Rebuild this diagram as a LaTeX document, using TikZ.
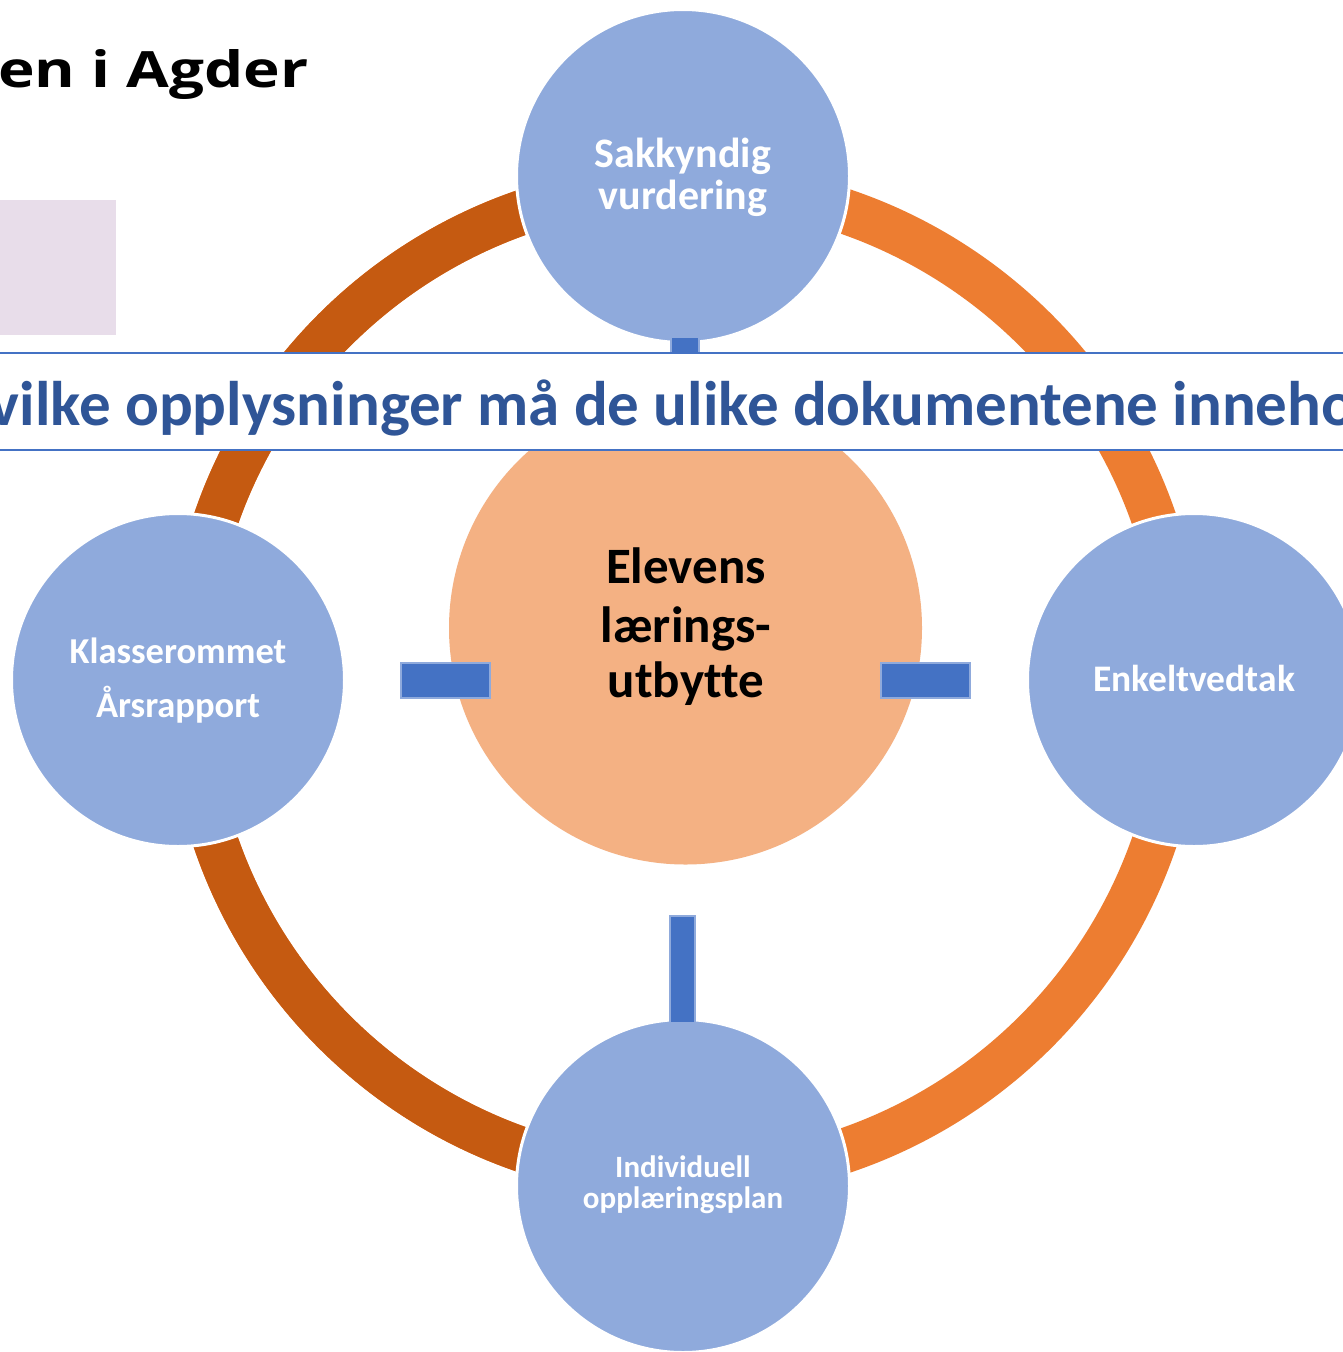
\documentclass[tikz,border=0pt]{standalone}
\usepackage{fontspec}
\setmainfont{Carlito}[Ligatures=NoCommon]
\newfontfamily\titlefont{Open Sans}
\definecolor{ringL}{HTML}{C55A11}
\definecolor{ringR}{HTML}{ED7D31}
\definecolor{outerC}{HTML}{8FAADC}
\definecolor{centerC}{HTML}{F4B183}
\definecolor{barC}{HTML}{4472C4}
\definecolor{barE}{HTML}{8FAADC}
\definecolor{bannerT}{HTML}{2F5597}
\definecolor{pinkC}{HTML}{E8DDEA}
\tikzset{
  outer/.style={circle, fill=outerC, draw=white, line width=3pt, minimum size=333pt, inner sep=0pt},
  lbl/.style={text=white, align=center},
  bar/.style={fill=barC, draw=barE, line width=2pt},
}
\begin{document}
\begin{tikzpicture}[x=1pt,y=-1pt]
\useasboundingbox (0,0) rectangle (1342,1352);
\fill[white] (0,0) rectangle (1342,1352);
% title and pink box
\node[anchor=base west, inner sep=0pt, font=\titlefont\bfseries\fontsize{50}{56}\selectfont, xscale=1.24] (title) at (-2,87) {en i Agder};
\fill[pinkC] (0,200) rectangle (116,335);
% ring
\coordinate (rc) at (685,681);
\draw[line width=45pt, ringR] (rc) circle[radius=496];
\draw[line width=45pt, ringL] ([shift={(90:496)}]rc) arc[start angle=90, end angle=270, radius=496];
% outer circles
\node[outer] (sak) at (683,176) {};
\node[outer] (kla) at (178,680) {};
\node[outer] (enk) at (1194,680) {};
\node[outer] (ind) at (683,1186) {};
% center
\node[circle, fill=centerC, minimum size=473pt, inner sep=0pt] (mid) at (685.5,628) {};
% bars
\draw[bar] (671,337) rectangle (699,445);
\draw[bar] (401,663) rectangle (490,698);
\draw[bar] (881,663) rectangle (970,698);
\draw[bar] (670,916) rectangle (695,1023);
% banner
\begin{scope}
\clip (0,352) rectangle (1342,451);
\fill[white] (-10,352) rectangle (1352,451);
\node[anchor=base west, inner sep=0pt, text=bannerT, font=\bfseries\fontsize{63}{70}\selectfont] (q) at (-50,425) {Hvilke opplysninger må de ulike dokumentene inneholde?};
\end{scope}
\draw[barC, line width=2pt] (-5,353) -- (1347,353);
\draw[barC, line width=2pt] (-5,450) -- (1347,450);
% labels
\node[lbl, font=\bfseries\fontsize{42}{44}\selectfont, anchor=base] (t1) at (683,167) {Sakkyndig};
\node[lbl, font=\bfseries\fontsize{42}{44}\selectfont, anchor=base] (t2) at (683,209) {vurdering};
\node[lbl, font=\bfseries\fontsize{36.5}{38}\selectfont, anchor=base] (t3) at (178,663) {Klasserommet};
\node[lbl, font=\bfseries\fontsize{36.5}{38}\selectfont, anchor=base] (t4) at (178,717) {Årsrapport};
\node[lbl, font=\bfseries\fontsize{37.5}{40}\selectfont, anchor=base] (t5) at (1194,691) {Enkeltvedtak};
\node[lbl, font=\bfseries\fontsize{31}{33}\selectfont, anchor=base] (t6) at (683,1177) {Individuell};
\node[lbl, font=\bfseries\fontsize{31}{33}\selectfont, anchor=base] (t7) at (683,1208) {opplæringsplan};
\node[font=\bfseries\fontsize{51}{53}\selectfont, anchor=base] (c1) at (686,583) {Elevens};
\node[font=\bfseries\fontsize{51}{53}\selectfont, anchor=base] (c2) at (686,642) {lærings-};
\node[font=\bfseries\fontsize{51}{53}\selectfont, anchor=base] (c3) at (686,697) {utbytte};
\end{tikzpicture}
\end{document}
